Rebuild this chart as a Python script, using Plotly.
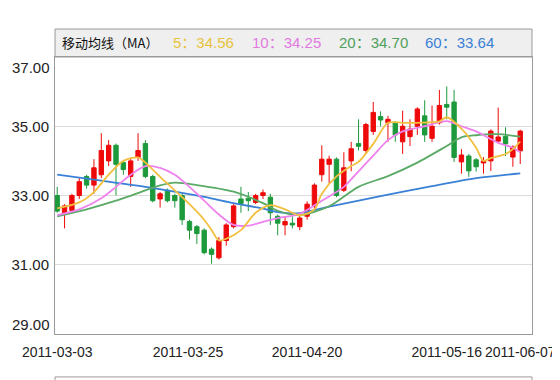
import plotly.graph_objects as go

# ---- candle data (index = trading day) ----
idx = list(range(64))
open_ = [33.0, 32.5, 32.57, 33.0, 33.55, 33.3, 33.6, 34.0, 34.45, 33.95,
         33.55, 34.1, 34.5, 33.55, 32.9, 33.15, 33.0, 33.0, 32.25, 32.1,
         32.0, 31.45, 31.2, 31.7, 32.1, 32.9, 32.92, 32.8, 33.0, 32.95,
         32.4, 32.15, 32.2, 32.1, 32.4, 32.7, 33.6, 33.9, 34.05, 33.15,
         34.0, 34.5, 34.3, 34.85, 35.28, 35.1, 35.1, 34.55, 34.7, 35.0,
         35.3, 34.65, 35.1, 35.63, 35.7, 33.97, 34.14, 34.03, 33.94, 34.0,
         34.57, 34.71, 34.11, 34.29]
high = [33.25, 32.75, 33.05, 33.5, 33.6, 34.05, 34.8, 34.6, 34.5, 34.0,
        34.1, 34.8, 34.6, 33.6, 33.1, 33.2, 33.05, 33.05, 32.3, 32.15,
        32.05, 31.5, 31.8, 32.2, 32.75, 33.25, 33.1, 33.05, 33.17, 33.05,
        32.45, 32.4, 32.4, 32.45, 32.83, 33.35, 34.45, 34.15, 34.1, 34.25,
        34.55, 35.2, 35.1, 35.7, 35.43, 35.3, 35.15, 35.45, 35.2, 35.55,
        35.75, 35.6, 36.05, 36.15, 36.05, 34.34, 34.2, 34.08, 34.11, 34.91,
        35.54, 34.97, 34.45, 34.9]
low = [32.5, 32.05, 32.5, 32.9, 33.2, 33.05, 33.5, 33.85, 33.0, 33.6,
       33.25, 34.0, 33.5, 32.8, 32.65, 32.8, 32.65, 32.15, 31.73, 31.6,
       31.3, 31.03, 31.15, 31.55, 32.05, 32.5, 32.55, 32.75, 32.9, 32.15,
       31.85, 31.85, 32.05, 32.0, 32.3, 32.6, 33.4, 33.35, 32.95, 33.1,
       33.7, 34.3, 34.2, 34.75, 35.0, 34.55, 34.55, 34.2, 34.43, 34.75,
       34.55, 34.55, 35.05, 35.2, 33.97, 33.63, 33.54, 33.69, 33.63, 33.71,
       34.54, 34.14, 33.83, 33.91]
close = [32.55, 32.7, 33.0, 33.4, 33.3, 33.8, 34.3, 34.45, 33.9, 33.75,
         34.0, 34.3, 33.55, 32.85, 33.05, 32.85, 32.85, 32.3, 32.0, 31.9,
         31.35, 31.3, 31.7, 32.15, 32.7, 32.77, 32.85, 33.0, 33.08, 32.5,
         32.2, 32.25, 32.15, 32.35, 32.75, 33.3, 34.05, 34.05, 33.0, 33.8,
         34.35, 34.42, 35.05, 35.4, 35.18, 35.2, 34.75, 35.0, 34.92, 35.5,
         34.75, 35.0, 35.6, 35.55, 34.1, 34.17, 33.71, 33.83, 34.0, 34.86,
         34.69, 34.49, 34.4, 34.86]

# ---- moving average lines ----
ma5_x = [0, 3, 5, 7, 9, 11, 12, 14, 16, 18, 20, 21, 22, 23, 25, 27, 29, 31, 33, 35,
         36, 38, 40, 41, 43, 45, 47, 49, 52, 53, 55, 57, 58, 59, 61, 62, 63]
ma5_y = [32.63, 32.8, 33.1, 33.6, 34.0, 34.1, 33.95, 33.54, 33.15, 32.75, 32.3, 32.0,
         31.7, 31.75, 32.0, 32.5, 32.72, 32.6, 32.43, 32.6, 33.05, 33.55, 33.85, 33.97,
         34.49, 35.1, 35.1, 35.1, 35.14, 35.26, 34.93, 34.38, 34.0, 34.08, 34.2, 34.34, 34.56]
ma10_x = [0, 3, 6, 8, 10, 12, 14, 16, 18, 20, 22, 24, 26, 28, 30, 33, 36, 39, 41, 43,
          45, 47, 50, 53, 55, 57, 60, 62, 63]
ma10_y = [32.43, 32.6, 32.92, 33.25, 33.6, 33.85, 33.8, 33.6, 33.25, 32.85, 32.45, 32.15,
          32.13, 32.24, 32.35, 32.47, 32.85, 33.25, 33.7, 34.15, 34.6, 34.85, 35.0, 35.15,
          35.0, 34.85, 34.52, 34.38, 34.25]
ma20_x = [0, 4, 8, 11, 14, 16, 19, 24, 28, 30, 33, 37, 41, 45, 49, 53, 55, 57, 60, 63]
ma20_y = [32.40, 32.60, 32.85, 33.07, 33.29, 33.37, 33.30, 33.11, 32.78, 32.56, 32.43,
          32.69, 33.25, 33.56, 33.95, 34.43, 34.68, 34.74, 34.77, 34.70]
ma60_x = [0, 6, 12, 20, 24, 28, 30, 33, 37, 44, 51, 57, 63]
ma60_y = [33.60, 33.43, 33.25, 32.96, 32.78, 32.62, 32.52, 32.49, 32.68, 32.98, 33.27,
          33.50, 33.64]

# ---- axis labels ----
x_tick_pos = [0, 17.8, 34, 53, 63]
x_tick_text = ["2011-03-03", "2011-03-25", "2011-04-20", "2011-05-16", "2011-06-07"]
y_ticks = [31, 33, 35]
y_edge_ticks = [37, 29]

header_title = "移动均线（MA）"
legend_items = [("5：34.56", "#e8c23c"), ("10：34.25", "#e27ae0"),
                ("20：34.70", "#4f9f5c"), ("60：33.64", "#3a80d6")]
legend_x = [0.243, 0.409, 0.591, 0.771]

TICKFONT = "Liberation Sans, Arial, sans-serif"
RED = "#ee0a0a"
GREEN = "#1d9a3c"

fig = go.Figure()
fig.add_trace(go.Candlestick(
    x=idx, open=open_, high=high, low=low, close=close,
    increasing=dict(line=dict(color=RED, width=1), fillcolor=RED),
    decreasing=dict(line=dict(color=GREEN, width=1), fillcolor=GREEN),
    whiskerwidth=0, showlegend=False, hoverinfo="skip"))

for xs, ys, col in [(ma60_x, ma60_y, "#3a80d6"), (ma20_x, ma20_y, "#5aaa66"),
                    (ma10_x, ma10_y, "#ee82ee"), (ma5_x, ma5_y, "#f2c040")]:
    fig.add_trace(go.Scatter(x=xs, y=ys, mode="lines",
                             line=dict(color=col, width=1.8, shape="spline", smoothing=0.8),
                             showlegend=False, hoverinfo="skip"))

annotations = []
annotations.append(dict(text=header_title, x=0.0105, y=1.052, xref="paper", yref="paper",
                        xanchor="left", yanchor="middle", showarrow=False,
                        font=dict(family="Noto Sans CJK SC", size=13, color="#111")))
for (txt, col), lx in zip(legend_items, legend_x):
    annotations.append(dict(text=txt, x=lx, y=1.052, xref="paper", yref="paper",
                            xanchor="left", yanchor="middle", showarrow=False,
                            font=dict(family=TICKFONT + ", Noto Sans CJK SC", size=15, color=col)))
for v, sh in zip(y_edge_ticks, [-10, 10]):
    annotations.append(dict(text=f"{v:.2f}", x=0, y=v, xref="paper", yref="y",
                            xanchor="right", yanchor="middle", xshift=-3, yshift=sh,
                            showarrow=False, font=dict(family=TICKFONT, size=15, color="#222")))

shapes = [
    dict(type="rect", xref="paper", yref="paper", x0=0, x1=1, y0=1, y1=1.101,
         fillcolor="#efefef", line=dict(color="#9a9a9a", width=1), layer="below"),
    dict(type="rect", xref="paper", yref="paper", x0=0, x1=1, y0=-0.155, y1=-0.3,
         fillcolor="rgba(0,0,0,0)", line=dict(color="#9a9a9a", width=1)),
]

# the page body adds an 8px offset, so margins compensate for it
fig.update_layout(
    width=560, height=380,
    margin=dict(l=47, r=36, t=49, b=54, autoexpand=False),
    paper_bgcolor="white", plot_bgcolor="white",
    boxgap=0.15,
    annotations=annotations, shapes=shapes,
    xaxis=dict(range=[-0.3, 64.6], tickvals=x_tick_pos, ticktext=x_tick_text,
               showgrid=False, zeroline=False, showline=True, linecolor="#9a9a9a",
               mirror=True, ticks="", ticklabelstandoff=5, ticklabeloverflow="allow",
               automargin=False, tickangle=0,
               tickfont=dict(family=TICKFONT, size=14, color="#222"),
               rangeslider=dict(visible=False)),
    yaxis=dict(range=[29, 37], tickvals=y_ticks, ticktext=[f"{v:.2f}" for v in y_ticks],
               showgrid=True, gridcolor="#dcdcdc", gridwidth=1, zeroline=False,
               showline=True, linecolor="#9a9a9a", mirror=True, ticks="",
               ticklabelstandoff=2, automargin=False,
               tickfont=dict(family=TICKFONT, size=15, color="#222")),
)

fig.write_html("out.html")
